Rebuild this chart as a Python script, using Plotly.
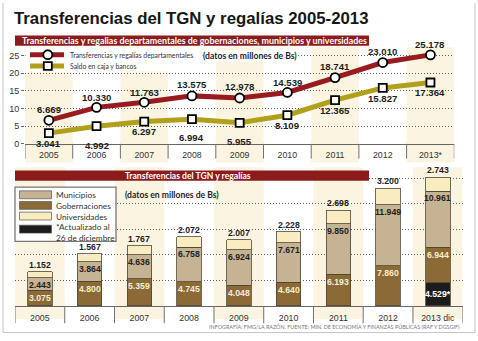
import plotly.graph_objects as go

# ---------------- data ----------------
years_top = ["2005", "2006", "2007", "2008", "2009", "2010", "2011", "2012", "2013*"]
transferencias = [6.669, 10.330, 11.763, 13.575, 12.978, 14.539, 18.741, 23.010, 25.178]
saldo = [3.041, 4.992, 6.297, 6.994, 5.955, 8.109, 12.365, 15.827, 17.364]

years_bottom = ["2005", "2006", "2007", "2008", "2009", "2010", "2011", "2012", "2013 dic"]
actualizado = [None, None, None, None, None, None, None, None, 4.529]
gobernaciones = [3.075, 4.800, 5.359, 4.745, 4.048, 4.640, 6.193, 7.860, 6.944]
municipios = [2.443, 3.864, 4.636, 6.758, 6.924, 7.671, 9.850, 11.949, 10.961]
universidades = [1.152, 1.567, 1.767, 2.072, 2.007, 2.228, 2.698, 3.200, 2.743]

top_ticks = [0, 5, 10, 15, 20, 25]
bottom_grid = [5, 10, 15, 20, 25]

# ---------------- styling ----------------
W, H = 478, 341
RED = "#991b1f"
OLIVE = "#b0a01c"
BANNER = "#8c1b1c"
SHADE = "#fbf4e1"
C_MUN = "#c6b394"
C_GOB = "#8b6a36"
C_UNI = "#f8ecc0"
C_ACT = "#1c1c1c"
DARK = "#1e1e1e"
GRID = "#606060"

LATO = "Lato, Liberation Sans, sans-serif"
SANS = "Liberation Sans, Arial, sans-serif"


def px(x):
    return x / W


def py(y):
    return 1 - y / H


# pixel geometry of the two panels
TOP_ZERO, TOP_UNIT, TOP_MAX = 146.0, 3.587, 27
BOT_ZERO, BOT_UNIT, BOT_MAX = 310.5, 5.19, 28
top_dom_y = [py(TOP_ZERO), py(TOP_ZERO - TOP_MAX * TOP_UNIT)]
bot_dom_y = [py(BOT_ZERO), py(BOT_ZERO - BOT_MAX * BOT_UNIT)]
top_dom_x = [px(25), px(454.3)]
bot_dom_x = [px(15), px(462.7)]

fig = go.Figure()

# ---------------- top: lines ----------------
fig.add_trace(go.Scatter(
    x=years_top, y=transferencias, mode="lines+markers",
    line=dict(color=RED, width=5),
    marker=dict(symbol="circle", size=9, color="white", line=dict(color="black", width=1.8)),
    cliponaxis=False, showlegend=False, xaxis="x", yaxis="y",
))
fig.add_trace(go.Scatter(
    x=years_top, y=saldo, mode="lines+markers",
    line=dict(color=OLIVE, width=5),
    marker=dict(symbol="square", size=8, color="white", line=dict(color="black", width=1.8)),
    cliponaxis=False, showlegend=False, xaxis="x", yaxis="y",
))

# ---------------- bottom: stacked bars ----------------
bar_line = dict(color="#4e4536", width=0.8)
for name, vals, col in [
    ("*Actualizado al 26 de diciembre", actualizado, C_ACT),
    ("Gobernaciones", gobernaciones, C_GOB),
    ("Municipios", municipios, C_MUN),
    ("Universidades", universidades, C_UNI),
]:
    fig.add_trace(go.Bar(
        x=years_bottom, y=vals, name=name, width=0.49,
        marker=dict(color=col, line=bar_line),
        showlegend=False, xaxis="x2", yaxis="y2",
    ))


def fmt(v):
    return f"{v:.3f}"


ann = []

# value labels, top panel (x given as category index)
red_shift = [11, 10, 10, 11, 11, 10, 11, 11, 10]
olive_shift = [-10, -19, -10, -18, -19, -10, -10, -11, -10]
top_font = dict(family=SANS, size=9.6, color=DARK, weight="bold")
for i in range(len(years_top)):
    ann.append(dict(x=i, y=transferencias[i], xref="x", yref="y", text=fmt(transferencias[i]),
                    showarrow=False, yshift=red_shift[i], yanchor="middle", font=top_font))
    ann.append(dict(x=i, y=saldo[i], xref="x", yref="y", text=fmt(saldo[i]),
                    showarrow=False, yshift=olive_shift[i], yanchor="middle", font=top_font))

# value labels, bottom panel
lab_font = dict(family=SANS, size=8.7, weight="bold")
for i in range(len(years_bottom)):
    base = actualizado[i] or 0
    if actualizado[i]:
        ann.append(dict(x=i, y=actualizado[i], xref="x2", yref="y2", text=fmt(actualizado[i]) + "*",
                        showarrow=False, yshift=-11, yanchor="middle",
                        font=dict(**lab_font, color="white")))
    g_top = base + gobernaciones[i]
    m_top = g_top + municipios[i]
    u_top = m_top + universidades[i]
    ann.append(dict(x=i, y=g_top, xref="x2", yref="y2", text=fmt(gobernaciones[i]),
                    showarrow=False, yshift=-7.5, yanchor="middle",
                    font=dict(**lab_font, color="#f6edd2")))
    ann.append(dict(x=i, y=m_top, xref="x2", yref="y2", text=fmt(municipios[i]),
                    showarrow=False, yshift=-7, yanchor="middle",
                    font=dict(**lab_font, color=DARK)))
    ann.append(dict(x=i, y=u_top, xref="x2", yref="y2", text=fmt(universidades[i]),
                    showarrow=False, yshift=7, yanchor="middle",
                    font=dict(**lab_font, color=DARK)))

# titles / banners / notes
ann += [
    dict(x=px(12), y=py(18.5), xref="paper", yref="paper", xanchor="left", yanchor="middle",
         text="Transferencias del TGN y regalías 2005-2013", showarrow=False,
         font=dict(family=SANS, size=16.8, color="#161616", weight="bold")),
    dict(x=px(20), y=py(41.3), xref="paper", yref="paper", xanchor="left", yanchor="middle",
         text="Transferencias y regalias departamentales de gobernaciones, municipios y universidades",
         showarrow=False, font=dict(family=LATO, size=8.9, color="white", weight="bold")),
    dict(x=px(202), y=py(56.5), xref="paper", yref="paper", xanchor="left", yanchor="middle",
         text="(datos en millones de Bs)", showarrow=False, bgcolor="white", borderpad=0,
         font=dict(family=LATO, size=8.6, color=DARK, weight="bold")),
    dict(x=px(68), y=py(55.5), xref="paper", yref="paper", xanchor="left", yanchor="middle",
         text="Transferencias y regalías departamentales", showarrow=False,
         font=dict(family=LATO, size=6.8, color="#333333")),
    dict(x=px(68), y=py(67), xref="paper", yref="paper", xanchor="left", yanchor="middle",
         text="Saldo en caja y bancos", showarrow=False,
         font=dict(family=LATO, size=6.8, color="#333333")),
    dict(x=px(188), y=py(178.3), xref="paper", yref="paper", xanchor="center", yanchor="middle",
         text="Transferencias del TGN y regalías", showarrow=False,
         font=dict(family=LATO, size=8.6, color="white", weight="bold")),
    dict(x=px(123), y=py(197.5), xref="paper", yref="paper", xanchor="left", yanchor="middle",
         text="(datos en millones de Bs)", showarrow=False,
         font=dict(family=LATO, size=8.6, color=DARK, weight="bold")),
    dict(x=px(462), y=py(331), xref="paper", yref="paper", xanchor="right", yanchor="middle",
         text="INFOGRAFÍA: FMG/LA RAZÓN. FUENTE: MIN. DE ECONOMÍA Y FINANZAS PÚBLICAS (RAF Y DGSGIF)",
         showarrow=False, font=dict(family=LATO, size=5.4, color="#777777")),
]

# bottom legend: swatches plus one multi-line label block
leg_labels = ["Municipios", "Gobernaciones", "Universidades", "*Actualizado al", "26 de diciembre"]
leg_colors = [C_MUN, C_GOB, C_UNI, C_ACT]
LEG_SIZE = 8.3
LEG_FIRST = 197.7
LEG_STEP = 1.3 * LEG_SIZE
ann.append(dict(x=px(55), y=py(LEG_FIRST - 0.65 * LEG_SIZE), xref="paper", yref="paper",
                xanchor="left", yanchor="top", align="left", borderpad=0,
                text="<br>".join(leg_labels), showarrow=False,
                font=dict(family=LATO, size=LEG_SIZE, color="#333333")))

# ---------------- shapes ----------------
shapes = []
# alternating shaded columns
for k in range(0, 9, 2):
    shapes.append(dict(type="rect", xref="x", yref="paper", x0=k - 0.5, x1=k + 0.5,
                       y0=py(165), y1=py(48), fillcolor=SHADE, line=dict(width=0), layer="below"))
    shapes.append(dict(type="rect", xref="x2", yref="paper", x0=k - 0.5, x1=k + 0.5,
                       y0=py(324), y1=py(170), fillcolor=SHADE, line=dict(width=0), layer="below"))
# category separators
for k in range(10):
    shapes.append(dict(type="line", xref="x", yref="paper", x0=k - 0.5, x1=k - 0.5,
                       y0=py(TOP_ZERO), y1=py(161), line=dict(color="#707070", width=1)))
    shapes.append(dict(type="line", xref="x2", yref="paper", x0=k - 0.5, x1=k - 0.5,
                       y0=py(BOT_ZERO), y1=py(328), line=dict(color="#707070", width=1)))
# banners
shapes.append(dict(type="rect", xref="paper", yref="paper", x0=px(15), x1=px(369),
                   y0=py(46.5), y1=py(36), fillcolor=BANNER, line=dict(width=0)))
shapes.append(dict(type="rect", xref="paper", yref="paper", x0=px(15), x1=px(369),
                   y0=py(183.5), y1=py(173), fillcolor=BANNER, line=dict(width=0)))
# top legend backdrop and samples
shapes.append(dict(type="rect", xref="paper", yref="paper", x0=px(25.5), x1=px(200),
                   y0=py(72.5), y1=py(47), fillcolor="white", line=dict(width=0)))
shapes.append(dict(type="line", xref="paper", yref="paper", x0=px(30), x1=px(64),
                   y0=py(55.5), y1=py(55.5), line=dict(color=RED, width=5)))
shapes.append(dict(type="circle", xref="paper", yref="paper", x0=px(43.3), x1=px(52.3),
                   y0=py(60), y1=py(51), fillcolor="white", line=dict(color="black", width=1.8)))
shapes.append(dict(type="line", xref="paper", yref="paper", x0=px(30), x1=px(64),
                   y0=py(67), y1=py(67), line=dict(color=OLIVE, width=5)))
shapes.append(dict(type="rect", xref="paper", yref="paper", x0=px(43.8), x1=px(51.8),
                   y0=py(71), y1=py(63), fillcolor="white", line=dict(color="black", width=1.8)))
# bottom legend box and swatches
shapes.append(dict(type="rect", xref="paper", yref="paper", x0=px(15), x1=px(116),
                   y0=py(245), y1=py(190), fillcolor="white", line=dict(color="#777777", width=1.3)))
for j, col in enumerate(leg_colors):
    yc = LEG_FIRST + j * LEG_STEP + (2.5 if j == 3 else 0)
    shapes.append(dict(type="rect", xref="paper", yref="paper", x0=px(19.5), x1=px(51.5),
                       y0=py(yc + 4), y1=py(yc - 4), fillcolor=col,
                       line=dict(color="#555555", width=0.7)))
# outer frame
for x0, y0, x1, y1 in [(3, 3, 3, 337.5), (475, 3, 475, 337.5), (3, 337.5, 475, 337.5)]:
    shapes.append(dict(type="line", xref="paper", yref="paper", x0=px(x0), x1=px(x1),
                       y0=py(y0), y1=py(y1), line=dict(color="#c4c4c4", width=1)))

axis_font = dict(family=SANS, size=8.8, color="#333333")

fig.update_layout(
    width=W, height=H,
    margin=dict(l=0, r=0, t=0, b=0),
    paper_bgcolor="white", plot_bgcolor="rgba(0,0,0,0)",
    barmode="stack", showlegend=False,
    xaxis=dict(domain=top_dom_x, anchor="y", type="category", range=[-0.5, 8.5],
               showgrid=False, showline=True, linecolor="#666666", linewidth=1,
               ticks="", tickfont=axis_font, ticklabelstandoff=3, fixedrange=True),
    yaxis=dict(domain=top_dom_y, anchor="x", range=[0, TOP_MAX], tickvals=top_ticks,
               showgrid=True, gridcolor=GRID, gridwidth=1, griddash="1px,2px",
               zeroline=False, showline=False, ticks="outside", ticklen=3, tickcolor="#666666",
               tickfont=dict(family=SANS, size=9, color="#333333"), fixedrange=True),
    xaxis2=dict(domain=bot_dom_x, anchor="y2", type="category", range=[-0.5, 8.5],
                showgrid=False, showline=True, linecolor="#666666", linewidth=1,
                ticks="", tickfont=axis_font, ticklabelstandoff=3, fixedrange=True),
    yaxis2=dict(domain=bot_dom_y, anchor="x2", range=[0, BOT_MAX], tickvals=bottom_grid,
                showgrid=True, gridcolor=GRID, gridwidth=1, griddash="1px,2px",
                zeroline=False, showline=False, showticklabels=False, fixedrange=True),
    annotations=ann,
    shapes=shapes,
)

fig.write_html("out.html", config={"displayModeBar": False})
